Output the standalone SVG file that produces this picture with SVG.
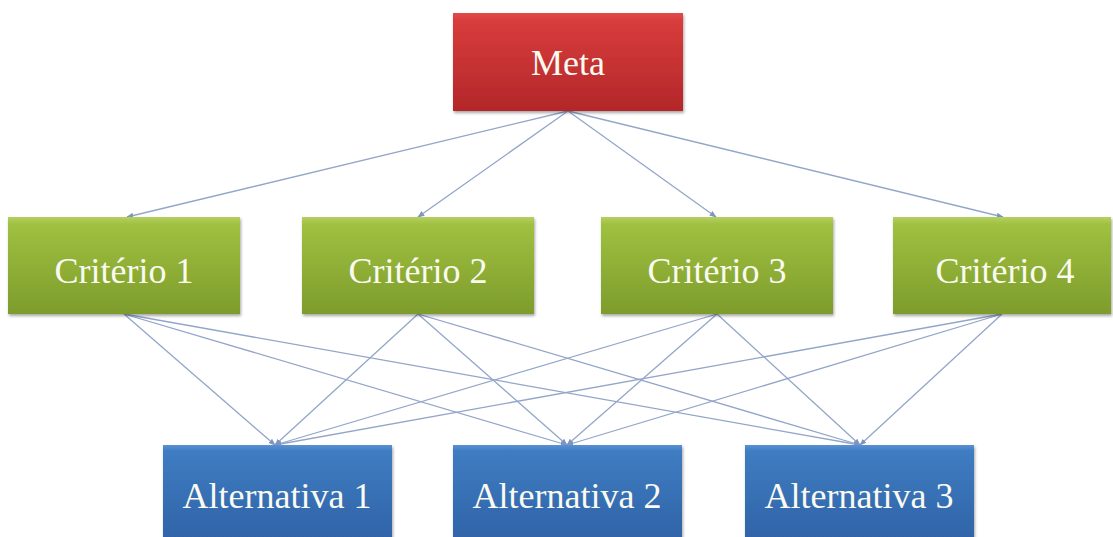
<svg xmlns="http://www.w3.org/2000/svg" width="1113" height="537" viewBox="0 0 1113 537">
<defs>
<linearGradient id="gRed" x1="0" y1="0" x2="0" y2="1">
<stop offset="0" stop-color="#e04a48"/><stop offset="0.08" stop-color="#d83c3b"/><stop offset="1" stop-color="#b3272a"/>
</linearGradient>
<linearGradient id="gGreen" x1="0" y1="0" x2="0" y2="1">
<stop offset="0" stop-color="#b5d060"/><stop offset="0.08" stop-color="#9fc040"/><stop offset="1" stop-color="#7d9c2c"/>
</linearGradient>
<linearGradient id="gBlue" x1="0" y1="0" x2="0" y2="1">
<stop offset="0" stop-color="#5a92d2"/><stop offset="0.06" stop-color="#3f7cc2"/><stop offset="1" stop-color="#2f62a6"/>
</linearGradient>
<marker id="arr" viewBox="0 0 10 10" refX="9" refY="5" markerWidth="7" markerHeight="7" orient="auto" markerUnits="userSpaceOnUse">
<path d="M0,1 L10,5 L0,9 z" fill="#7f95bf"/>
</marker>
<filter id="sh" x="-5%" y="-5%" width="110%" height="120%">
<feDropShadow dx="1" dy="2" stdDeviation="1.5" flood-color="#000" flood-opacity="0.35"/>
</filter>
</defs>
<style>
.lbl{font-size:36px;fill:#fafaf0;text-anchor:middle}
.con line{stroke:#93a6c9;stroke-width:1.3;fill:none;marker-end:url(#arr)}
</style>
<rect width="1113" height="537" fill="#ffffff"/>
<g class="con" id="connectors">
<line x1="568" y1="111" x2="127" y2="217"/>
<line x1="568" y1="111" x2="418" y2="217"/>
<line x1="568" y1="111" x2="716" y2="217"/>
<line x1="568" y1="111" x2="1003" y2="217"/>
<line x1="124" y1="314" x2="275" y2="445"/>
<line x1="124" y1="314" x2="567" y2="445"/>
<line x1="124" y1="314" x2="860" y2="445"/>
<line x1="418" y1="314" x2="275" y2="445"/>
<line x1="418" y1="314" x2="567" y2="445"/>
<line x1="418" y1="314" x2="860" y2="445"/>
<line x1="717" y1="314" x2="275" y2="445"/>
<line x1="717" y1="314" x2="567" y2="445"/>
<line x1="717" y1="314" x2="860" y2="445"/>
<line x1="1002" y1="314" x2="275" y2="445"/>
<line x1="1002" y1="314" x2="567" y2="445"/>
<line x1="1002" y1="314" x2="860" y2="445"/>
</g>
<g font-family="'Liberation Serif', 'DejaVu Serif', serif">
<g id="meta"><rect x="453" y="13" width="230" height="98" fill="url(#gRed)" filter="url(#sh)"/><text class="lbl" x="568" y="75">Meta</text></g>
<g id="criterio1"><rect x="8" y="217" width="232" height="97" fill="url(#gGreen)" filter="url(#sh)"/><text class="lbl" x="124" y="283">Critério 1</text></g>
<g id="criterio2"><rect x="302" y="217" width="232" height="97" fill="url(#gGreen)" filter="url(#sh)"/><text class="lbl" x="418" y="283">Critério 2</text></g>
<g id="criterio3"><rect x="601" y="217" width="232" height="97" fill="url(#gGreen)" filter="url(#sh)"/><text class="lbl" x="717" y="283">Critério 3</text></g>
<g id="criterio4"><rect x="893" y="217" width="218" height="97" fill="url(#gGreen)" filter="url(#sh)"/><text class="lbl" x="1005" y="283">Critério 4</text></g>
<g id="alternativa1"><rect x="163" y="445" width="229" height="100" fill="url(#gBlue)" filter="url(#sh)"/><text class="lbl" x="277" y="508">Alternativa 1</text></g>
<g id="alternativa2"><rect x="453" y="445" width="229" height="100" fill="url(#gBlue)" filter="url(#sh)"/><text class="lbl" x="567" y="508">Alternativa 2</text></g>
<g id="alternativa3"><rect x="745" y="445" width="229" height="100" fill="url(#gBlue)" filter="url(#sh)"/><text class="lbl" x="859" y="508">Alternativa 3</text></g>
</g>
</svg>
